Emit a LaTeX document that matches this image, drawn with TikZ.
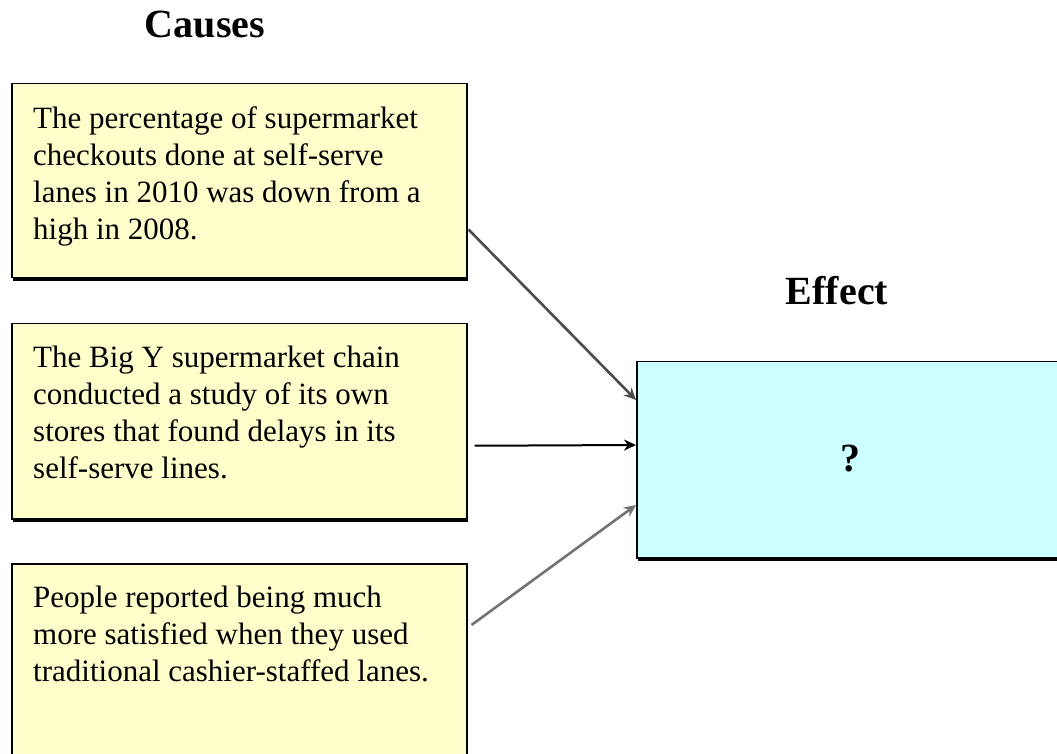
\documentclass[tikz,border=0pt]{standalone}
\usepackage{fontspec}
\setmainfont{Liberation Serif}
\usetikzlibrary{arrows.meta,calc}
\definecolor{causefill}{HTML}{FFFFCC}
\definecolor{effectfill}{HTML}{CCFFFF}
\tikzset{
  causebox/.style={draw=black, line width=1.5pt, fill=causefill, inner sep=0pt,
    anchor=north west, minimum width=455pt},
  effectbox/.style={draw=black, line width=1.5pt, fill=effectfill, inner sep=0pt,
    anchor=north west, minimum width=440pt, minimum height=196pt},
  boxshadow/.style={fill=black, draw=none},
  boxtext/.style={anchor=north west, inner sep=0pt, align=left,
    font=\fontsize{31}{37}\selectfont},
  heading/.style={font=\bfseries\fontsize{40}{44}\selectfont, inner sep=0pt, anchor=base},
  link/.style={line width=2.6pt, -{Stealth[length=12pt,width=11pt]}},
}
\begin{document}
\begin{tikzpicture}[x=1pt,y=1pt]
  \clip (0,0) rectangle (1057,753);
  \fill[white] (0,0) rectangle (1057,753);

  % headings
  \node[heading] (causes) at (205,715) {Causes};
  \node[heading] (effect) at (837,448) {Effect};

  % drop shadows
  \fill[boxshadow] (13,670-4) rectangle (468,476-4);
  \fill[boxshadow] (13,430-4) rectangle (468,235-4);
  \fill[boxshadow] (13,190-4) rectangle (468,-60);
  \fill[boxshadow] (638,392-4) rectangle (1100,196-4);

  % cause boxes
  \node[causebox, minimum height=194pt] (c1) at (11,670) {};
  \node[causebox, minimum height=195pt] (c2) at (11,430) {};
  \node[causebox, minimum height=260pt] (c3) at (11,190) {};

  % effect box
  \node[effectbox] (e) at (636,392) {};

  % texts
  \node[boxtext] (t1) at ($(c1.north west)+(22,-23)$)
    {The percentage of supermarket\\checkouts done at self-serve\\lanes in 2010 was down from a\\high in 2008.};
  \node[boxtext] (t2) at ($(c2.north west)+(22,-23)$)
    {The Big Y supermarket chain\\conducted a study of its own\\stores that found delays in its\\self-serve lines.};
  \node[boxtext] (t3) at ($(c3.north west)+(22,-23)$)
    {People reported being much\\more satisfied when they used\\traditional cashier-staffed lanes.};
  \node[font=\bfseries\fontsize{40}{44}\selectfont, inner sep=0pt, anchor=base] (q) at (850,281) {?};

  % connector end points on the box borders
  \coordinate (s1) at ($(c1.south east)+(1,49)$);
  \coordinate (s2) at ($(c2.east)+(7,-24.5)$);
  \coordinate (s3) at ($(c3.north east)+(4,-62)$);
  \coordinate (e1) at ($(e.north west)+(0,-39)$);
  \coordinate (e2) at ($(e.north west)+(0,-84)$);
  \coordinate (e3) at ($(e.north west)+(0,-144)$);

  \draw[link, draw=black!70, fill=black!70] (s1) -- (e1);
  \draw[link, line width=2pt, draw=black, fill=black] (s2) -- (e2);
  \draw[link, draw=black!55, fill=black!55] (s3) -- (e3);
\end{tikzpicture}
\end{document}
